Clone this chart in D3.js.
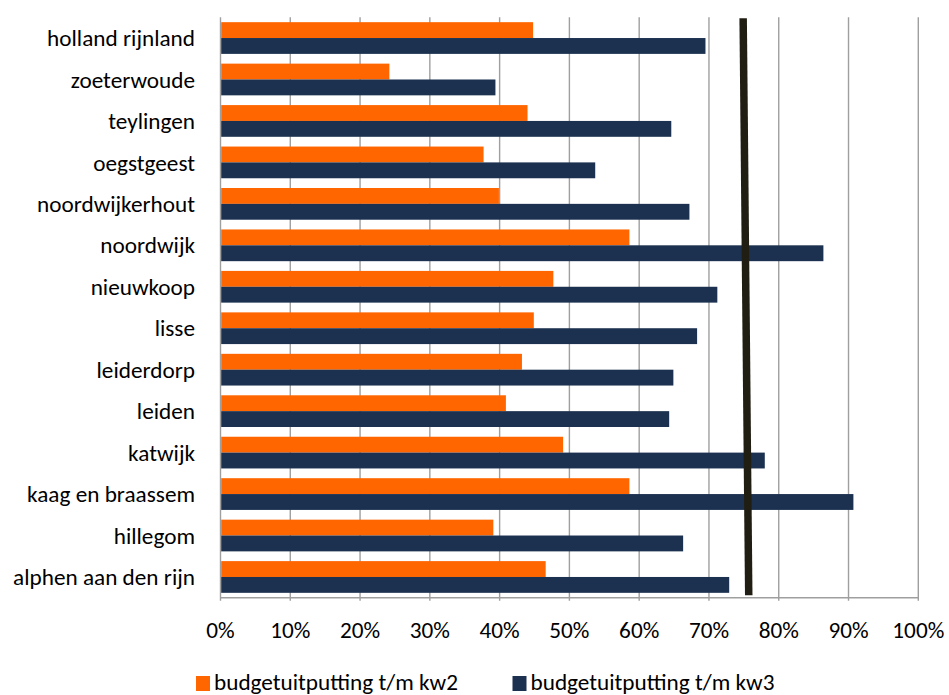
<!DOCTYPE html>
<html>
<head>
<meta charset="utf-8">
<script src="https://cdn.jsdelivr.net/npm/d3@7"></script>
<style>
  html, body { margin: 0; padding: 0; background: #ffffff; }
  svg { display: block; }
  text { font-family: Carlito, Calibri, Lato, "Open Sans", sans-serif; fill: #000; }
</style>
</head>
<body>
<svg id="chart" width="949" height="695"></svg>
<script>
// ---- data (top-to-bottom order as shown) ----
const categories = ["holland rijnland", "zoeterwoude", "teylingen", "oegstgeest", "noordwijkerhout",
  "noordwijk", "nieuwkoop", "lisse", "leiderdorp", "leiden", "katwijk", "kaag en braassem",
  "hillegom", "alphen aan den rijn"];
const seriesNames = ["budgetuitputting t/m kw2", "budgetuitputting t/m kw3"];
const kw2 = [44.8, 24.2, 44.0, 37.7, 39.9, 58.6, 47.7, 44.9, 43.2, 40.9, 49.1, 58.6, 39.1, 46.6];
const kw3 = [69.5, 39.4, 64.6, 53.7, 67.2, 86.4, 71.2, 68.3, 64.9, 64.3, 78.0, 90.7, 66.3, 72.9];
const tickValues = [0, 10, 20, 30, 40, 50, 60, 70, 80, 90, 100];
const targetLine = [74.9, 75.7]; // percent at top and at bottom of the plot
const colors = ["#FF6600", "#1C3150"];

(function () {
  // ---- layout ----
  const svg = d3.select("#chart");
  const pLeft = 220.5, pRight = 918.3, pTop = 17.3, pBottom = 597.7;

  // fit font size so category label width matches reference
  const probe = svg.append("text").attr("font-size", 100).text("holland rijnland");
  const probeW = probe.node().getComputedTextLength();
  probe.remove();
  const fs = Math.min(24, Math.max(14, 100 * 148 / probeW));

  const x = d3.scaleLinear().domain([0, 100]).range([pLeft, pRight]);
  const y = d3.scaleBand().domain(categories).range([pTop, pBottom]).paddingInner(0.235).paddingOuter(0.1175);
  const ySub = d3.scaleBand().domain([0, 1]).range([0, y.bandwidth()]).padding(0);

  // gridlines
  svg.append("g").selectAll("line").data(tickValues.slice(1)).join("line")
    .attr("x1", d => x(d)).attr("x2", d => x(d))
    .attr("y1", pTop).attr("y2", pBottom + 3)
    .attr("stroke", "#9f9f9f").attr("stroke-width", 1.4);

  // axis lines
  svg.append("line").attr("x1", x(0)).attr("x2", x(0)).attr("y1", pTop).attr("y2", pBottom + 3)
    .attr("stroke", "#9f9f9f").attr("stroke-width", 1.4);
  svg.append("line").attr("x1", x(0)).attr("x2", x(100)).attr("y1", pBottom).attr("y2", pBottom)
    .attr("stroke", "#9f9f9f").attr("stroke-width", 1.4);

  // bars
  const rows = categories.map((c, i) => ({ c, vals: [kw2[i], kw3[i]] }));
  const g = svg.append("g");
  rows.forEach(r => {
    r.vals.forEach((v, s) => {
      g.append("rect")
        .attr("x", x(0) + 0.7)
        .attr("y", y(r.c) + ySub(s))
        .attr("width", x(v) - x(0) - 0.7)
        .attr("height", ySub.bandwidth())
        .attr("fill", colors[s]);
    });
  });

  // target line
  svg.append("line")
    .attr("x1", x(targetLine[0])).attr("y1", pTop + 1)
    .attr("x2", x(targetLine[1])).attr("y2", pBottom - 2.5)
    .attr("stroke", "#201E13").attr("stroke-width", 7.5);

  // category labels
  svg.append("g").selectAll("text").data(categories).join("text")
    .attr("x", 195)
    .attr("y", d => y(d) + y.bandwidth() / 2)
    .attr("dy", "0.35em")
    .attr("text-anchor", "end")
    .attr("font-size", fs)
    .text(d => d);

  // x tick labels
  svg.append("g").selectAll("text").data(tickValues).join("text")
    .attr("x", d => x(d))
    .attr("y", 638)
    .attr("text-anchor", "middle")
    .attr("font-size", fs)
    .text(d => d + "%");

  // legend
  const legendX = [196, 512.5];
  const lg = svg.append("g");
  seriesNames.forEach((n, i) => {
    lg.append("rect").attr("x", legendX[i]).attr("y", 676).attr("width", 14).attr("height", 15)
      .attr("fill", colors[i]);
    lg.append("text").attr("x", legendX[i] + 18).attr("y", 690)
      .attr("font-size", fs).text(n);
  });
})();
</script>
</body>
</html>
